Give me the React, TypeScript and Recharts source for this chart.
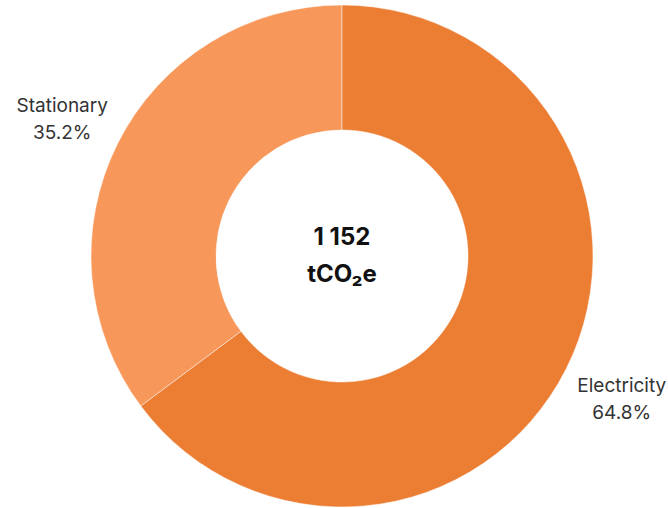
import { PieChart, Pie, Cell, Label } from "recharts";

const categories = ["Stationary", "Electricity"];
const emissions = [405.5, 746.5];
const percentLabels = ["35.2%", "64.8%"];
const totalLabel = "1 152";
const unitLabel = "tCO₂e";
const colors = ["#F7975A", "#EC7E34"];

const data = categories.map((name, i) => ({
  name,
  value: emissions[i],
  pct: percentLabels[i],
}));

const CX = 342;
const CY = 256;
const RAD = Math.PI / 180;

function renderLabel(props: any) {
  const { cx, cy, midAngle, outerRadius, index } = props;
  const r = outerRadius + 62;
  const x = cx + r * Math.cos(-midAngle * RAD);
  const y = cy + r * Math.sin(-midAngle * RAD);
  return (
    <text
      x={x}
      y={y}
      textAnchor="middle"
      fill="#333"
      fontSize={19}
      fontFamily="Inter, sans-serif"
    >
      <tspan x={x} dy={-4}>
        {data[index].name}
      </tspan>
      <tspan x={x} dy={27}>
        {data[index].pct}
      </tspan>
    </text>
  );
}

function CenterLabel() {
  return (
    <text
      x={CX}
      y={CY}
      textAnchor="middle"
      fill="#111"
      fontSize={24}
      fontWeight={700}
      fontFamily="Inter, sans-serif"
    >
      <tspan x={CX} dy={-11}>
        {totalLabel}
      </tspan>
      <tspan x={CX} dy={37}>
        {unitLabel}
      </tspan>
    </text>
  );
}

export default function App() {
  return (
    <div style={{ width: 668, height: 508 }}>
      <style>{"body{margin:0}"}</style>
      <PieChart width={668} height={508} margin={{ top: 0, right: 0, bottom: 0, left: 0 }}>
        <Pie
          data={data}
          dataKey="value"
          nameKey="name"
          cx={CX}
          cy={CY}
          innerRadius={126}
          outerRadius={251}
          startAngle={90}
          endAngle={450}
          stroke="#fff"
          strokeWidth={0.5}
          label={renderLabel}
          labelLine={false}
          isAnimationActive={false}
        >
          {data.map((d, i) => (
            <Cell key={d.name} fill={colors[i]} />
          ))}
          <Label position="center" content={CenterLabel} />
        </Pie>
      </PieChart>
    </div>
  );
}
